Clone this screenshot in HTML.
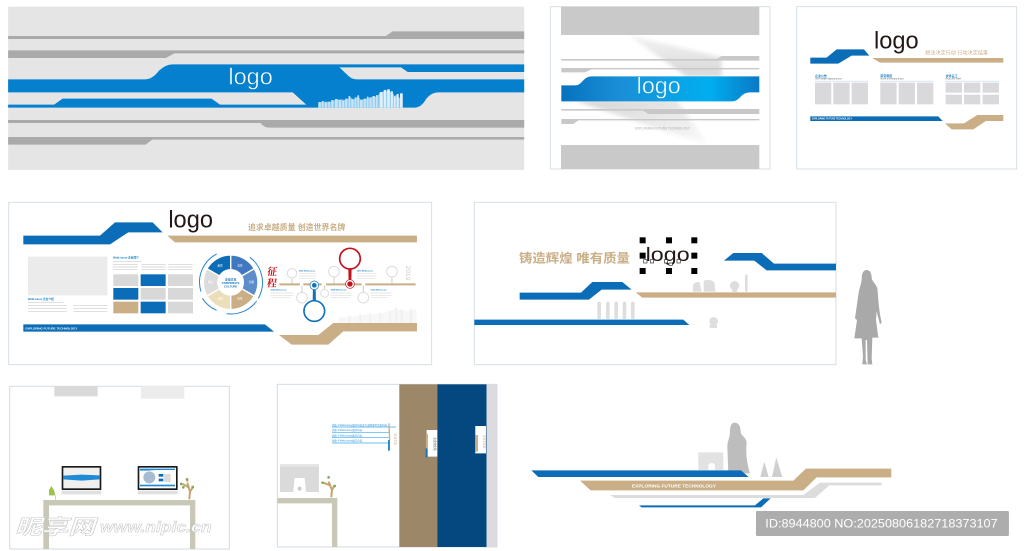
<!DOCTYPE html>
<html><head><meta charset="utf-8"><style>
html,body{margin:0;padding:0;background:#fff;width:1024px;height:551px;overflow:hidden}
svg{display:block}
text{font-family:"Liberation Sans","Noto Sans CJK SC",sans-serif}
</style></head><body>
<svg width="1024" height="551" viewBox="0 0 1024 551" xmlns="http://www.w3.org/2000/svg">
<defs>
<linearGradient id="bl" x1="0" x2="1" y1="0" y2="0"><stop offset="0" stop-color="#0672bd"/><stop offset=".3" stop-color="#1a8fd8"/><stop offset=".75" stop-color="#00aeef"/><stop offset="1" stop-color="#0a78c4"/></linearGradient>
<linearGradient id="sa" x1="0" x2="0" y1="0" y2="1"><stop offset="0" stop-color="#f4f4f4"/><stop offset="1" stop-color="#d6d6d6"/></linearGradient>
<linearGradient id="sb" x1="0" x2="1" y1="0" y2="1"><stop offset="0" stop-color="#d4d4d4"/><stop offset="1" stop-color="#fbfbfb"/></linearGradient>
<filter id="bb" x="-30%" y="-30%" width="160%" height="160%"><feGaussianBlur stdDeviation="6"/></filter>
<clipPath id="cp2"><rect x="64" y="105" width="594" height="330"/></clipPath>
</defs>

<!-- PANEL 1 -->
<g transform="scale(.3384,.3333)">
<rect x="24" y="20" width="1525" height="490" fill="#e5e5e5"/>
<path d="M24 108H1140L1160 94H1549V117H24Z" fill="#aaa"/>
<path d="M24 151H1549V160H515L490 174H24Z" fill="#aaa"/>
<path d="M24 360H1549V383H795Q780 383 770 369H24Z" fill="#aaa"/>
<path d="M24 411H1549V419H450L430 434H24Z" fill="#aaa"/>
<path d="M24 238H430Q450 238 470 212Q490 193 510 193H1549V216H1205L1185 202H1003L1030 228Q1040 238 1055 238H1549V277H1295Q1275 277 1260 296Q1245 323 1225 323H24V314H160L185 296H625L650 314H905L865 277H24Z" fill="#0580cf"/>
<path d="M940 323V308L960 305L975 306L990 300L1010 298L1020 300L1035 292L1045 298L1060 290L1065 299L1085 296L1095 291L1115 290L1122 279L1140 272L1160 276L1165 288L1175 284L1180 294L1190 284V323Z" fill="#8cc8ee"/>
<g fill="#c6e4f7">
<rect x="942" y="306" width="6" height="17"/><rect x="951" y="303" width="5" height="20"/><rect x="960" y="308" width="6" height="15"/><rect x="970" y="305" width="5" height="18"/><rect x="979" y="300" width="6" height="23"/><rect x="990" y="297" width="8" height="26"/><rect x="1001" y="300" width="7" height="23"/><rect x="1011" y="303" width="6" height="20"/><rect x="1020" y="296" width="6" height="27"/><rect x="1030" y="288" width="5" height="35"/><rect x="1038" y="298" width="7" height="25"/><rect x="1048" y="292" width="5" height="31"/><rect x="1056" y="286" width="5" height="37"/><rect x="1064" y="300" width="8" height="23"/><rect x="1075" y="296" width="6" height="27"/><rect x="1084" y="290" width="5" height="33"/><rect x="1092" y="295" width="6" height="28"/><rect x="1101" y="288" width="7" height="35"/><rect x="1111" y="285" width="5" height="38"/>
</g>
<g fill="#e0f0fa"><rect x="1122" y="276" width="9" height="47"/><rect x="1134" y="270" width="7" height="53"/><rect x="1144" y="268" width="8" height="55"/><rect x="1155" y="274" width="6" height="49"/><rect x="1164" y="290" width="5" height="33"/><rect x="1172" y="282" width="6" height="41"/><rect x="1182" y="280" width="8" height="43"/></g>
<text x="675" y="254" font-size="70" fill="#fff" stroke="#0580cf" stroke-width="1.500" textLength="131" lengthAdjust="spacingAndGlyphs">logo</text>
</g>

<!-- PANEL 2 -->
<g transform="translate(540,0) scale(.3333)">
<rect x="31" y="20" width="659" height="487" fill="#fff" stroke="#d7e0e6" stroke-width="3"/>
<g clip-path="url(#cp2)"><g filter="url(#bb)"><path d="M265 105L545 172V230H440Z" fill="url(#sa)"/><path d="M100 300H410L505 435L380 395Z" fill="url(#sb)"/></g></g>
<rect x="63" y="20" width="595" height="85" fill="#c9c9c9"/>
<rect x="63" y="435" width="595" height="72" fill="#c9c9c9"/>
<path d="M64 177H530L545 168H658V182H64Z" fill="#c8c8c8"/>
<path d="M64 204H658V208H155L135 217H64Z" fill="#c8c8c8"/>
<path d="M64 327H658V342H325L310 332H64Z" fill="#c8c8c8"/>
<path d="M64 357H658V361H115L100 372H64Z" fill="#c8c8c8"/>
<path d="M64 256H105Q118 256 128 243Q140 229 155 229H658V277H630Q612 277 600 292Q590 304 575 304H64Z" fill="url(#bl)"/>
<text x="290" y="280" font-size="70" fill="#fff" stroke="#19a0e4" stroke-width="1.500" textLength="132" lengthAdjust="spacingAndGlyphs">logo</text>
<text x="285" y="389" font-size="11" fill="#aaa" textLength="165" lengthAdjust="spacingAndGlyphs">EXPLORING FUTURE TECHNOLOGY</text>
</g>

<!-- PANEL 3 -->
<g transform="translate(540,0) scale(.3333)">
<rect x="770" y="20" width="660" height="487" fill="#fff" stroke="#d7e0e6" stroke-width="3"/>
<path d="M811 173H860L890 148H972L988 167H935L895 191H811Z" fill="#0b6cb7"/>
<path d="M997 174H1390V188H1020Z" fill="#c9ae86"/>
<text x="1002" y="146" font-size="72" fill="#231815" textLength="134" lengthAdjust="spacingAndGlyphs">logo</text>
<text x="1156" y="163" font-size="15" fill="#c9ae86" textLength="188" lengthAdjust="spacingAndGlyphs">想法决定行动 行动决定结果</text>
<text x="825" y="231" font-size="9" fill="#0b7cc7" font-weight="bold">企业公告</text>
<text x="1021" y="231" font-size="9" fill="#0b7cc7" font-weight="bold">荣誉制度</text>
<text x="1217" y="231" font-size="9" fill="#0b7cc7" font-weight="bold">优秀员工</text>
<text x="825" y="238" font-size="5" fill="#555">OUR COMPANY BRAND BULLETIN</text>
<text x="1021" y="238" font-size="5" fill="#555">HONOR SYSTEM AND RULES</text>
<text x="1217" y="238" font-size="5" fill="#555">EXCELLENT STAFF</text>
<path d="M825 243.500H984M1021 243.500H1180M1217 243.500H1377" stroke="#bcd8f0" stroke-width="2"/>
<g fill="#d9d9dc">
<rect x="825" y="248" width="49" height="65"/><rect x="880" y="248" width="49" height="65"/><rect x="935" y="248" width="49" height="65"/>
<rect x="1021" y="248" width="49" height="65"/><rect x="1076" y="248" width="49" height="65"/><rect x="1131" y="248" width="49" height="65"/>
<rect x="1217" y="248" width="49" height="30"/><rect x="1272" y="248" width="49" height="30"/><rect x="1328" y="248" width="49" height="30"/>
<rect x="1217" y="284" width="49" height="29"/><rect x="1272" y="284" width="49" height="29"/><rect x="1328" y="284" width="49" height="29"/>
</g>
<path d="M811 349H1195L1208 363H811Z" fill="#0b6cb7"/>
<text x="816" y="359" font-size="7.500" fill="#fff" font-weight="bold" textLength="120" lengthAdjust="spacingAndGlyphs">EXPLORING FUTURE TECHNOLOGY</text>
<path d="M1215 370H1272L1312 345H1390V363H1338L1300 388H1235Z" fill="#c9ae86"/>
</g>

<!-- PANEL 4 -->
<g transform="translate(0,195) scale(.3333)">
<rect x="26" y="22" width="1269" height="487" fill="#fff" stroke="#d7e0e6" stroke-width="3"/>
<path d="M70 122H300L345 82H458L488 112H385L330 148H70Z" fill="#0b6cb7"/>
<path d="M502 122H1251V142H525Z" fill="#c9ae86"/>
<text x="505" y="98" font-size="72" fill="#231815" textLength="134" lengthAdjust="spacingAndGlyphs">logo</text>
<text x="744" y="105" font-size="24" fill="#c9ae86" font-weight="bold" textLength="292" lengthAdjust="spacingAndGlyphs">追求卓越质量 创造世界名牌</text>
<rect x="84" y="185" width="238" height="116" fill="#ebebeb"/>
<text x="84" y="315" font-size="8" fill="#0b7cc7" font-weight="bold">WebLuxury 企业介绍</text>
<path d="M84 323H190M84 332H200M220 332H322M84 341H200M220 341H322M84 350H200M220 350H322" stroke="#ccc" stroke-width="2"/>
<text x="339" y="191" font-size="8" fill="#0b7cc7" font-weight="bold">WebLuxury 企业简介</text>
<path d="M339 199H425M339 208H412M424 208H497M505 208H578M339 216H412M424 216H497M505 216H578M339 224H412M424 224H497M505 224H578" stroke="#ccc" stroke-width="2"/>
<g>
<rect x="340" y="238" width="75" height="35" fill="#d8d8d8"/><rect x="422" y="238" width="75" height="35" fill="#0b6cb7"/><rect x="504" y="238" width="75" height="35" fill="#d8d8d8"/>
<rect x="340" y="279" width="75" height="35" fill="#0b6cb7"/><rect x="422" y="279" width="75" height="35" fill="#d8d8d8"/><rect x="504" y="279" width="75" height="35" fill="#d8d8d8"/>
<rect x="340" y="320" width="75" height="35" fill="#c9ae86"/><rect x="422" y="320" width="75" height="35" fill="#0b6cb7"/><rect x="504" y="320" width="75" height="35" fill="#d8d8d8"/>
</g>
<g stroke="#fff" stroke-width="4">
<path d="M692 180A82 82 0 0 1 763 221L725 243A38 38 0 0 0 692 224Z" fill="#3f78bf"/>
<path d="M763 221A82 82 0 0 1 763 303L725 281A38 38 0 0 0 725 243Z" fill="#5d8ccb"/>
<path d="M763 303A82 82 0 0 1 692 344V300A38 38 0 0 0 725 281Z" fill="#c9ae86"/>
<path d="M692 344A82 82 0 0 1 621 303L659 281A38 38 0 0 0 692 300Z" fill="#eadfb9"/>
<path d="M621 303A82 82 0 0 1 621 221L659 243A38 38 0 0 0 659 281Z" fill="#dcdcdc"/>
<path d="M621 221A82 82 0 0 1 692 180V224A38 38 0 0 0 659 243Z" fill="#0b6cb7"/>
</g>
<g fill="none" stroke="#2b86cc" stroke-width="3">
<path d="M750 187A95 95 0 0 1 775 310"/><path d="M770 318A95 95 0 0 1 680 356"/><path d="M650 346A95 95 0 0 1 607 310"/><path d="M603 290A95 95 0 0 1 650 177"/>
</g>
<g font-size="8" fill="#fff" text-anchor="middle"><text x="660" y="215">品质</text><text x="720" y="215">责任</text><text x="755" y="264">创新</text><text x="720" y="313">协作</text><text x="662" y="313">诚信</text><text x="632" y="264">敬业</text></g>
<g font-size="8.500" fill="#0b6cb7" text-anchor="middle" font-weight="bold"><text x="692" y="256">企业文化</text><text x="692" y="267">CORPORATE</text><text x="692" y="278">CULTURE</text></g>
<g transform="translate(802,0) skewX(-8)" fill="#d2121b" font-weight="bold">
<text x="32" y="240" font-size="30" style="font-family:'Noto Serif CJK SC',serif">征</text>
<text x="36" y="274" font-size="30" style="font-family:'Noto Serif CJK SC',serif">程</text>
</g>
<path d="M838 265H900V271H838ZM910 265H965V271H910ZM978 265H1085V271H978ZM1096 265H1247V271H1096Z" fill="#c9ae86"/>
<path d="M876 250V265M1002 247V265M1176 247V265M906 271V292M974 271V283M1090 271V292" stroke="#ccc" stroke-width="3"/>
<g fill="#fff" stroke="#ddd" stroke-width="3">
<circle cx="876" cy="235" r="14"/><circle cx="1002" cy="230" r="16"/><circle cx="1176" cy="230" r="16"/><circle cx="906" cy="308" r="16"/><circle cx="974" cy="295" r="12"/><circle cx="1090" cy="308" r="16"/>
</g>
<path d="M1045 218H1055L1054 262H1046Z" fill="#c4121c"/>
<circle cx="1050" cy="191" r="31" fill="#fff" stroke="#c4121c" stroke-width="5"/>
<circle cx="1050" cy="267" r="13" fill="#fff" stroke="#c4121c" stroke-width="2"/><circle cx="1050" cy="267" r="8" fill="#c4121c"/>
<path d="M939 275H947L948 320H938Z" fill="#1272bd"/>
<circle cx="943" cy="348" r="31" fill="#fff" stroke="#1272bd" stroke-width="5"/>
<circle cx="943" cy="271" r="13" fill="#fff" stroke="#1272bd" stroke-width="2"/><circle cx="943" cy="271" r="7" fill="#1272bd"/>
<g font-size="6" fill="#0b7cc7" font-weight="bold"><text x="897" y="229">2005 WebLuxury</text><text x="1071" y="229">2010 WebLuxury</text><text x="812" y="287">2002 WebLuxury</text><text x="992" y="287">2008 WebLuxury</text><text x="1112" y="287">2012 WebLuxury</text></g>
<path d="M897 236H950M897 243H950M897 250H945M1071 236H1130M1071 243H1130M1071 250H1125M812 294H880M812 301H880M812 308H870M992 294H1055M992 301H1055M992 308H1050M1112 294H1175M1112 301H1175M1112 308H1165" stroke="#ddd" stroke-width="2"/>
<text x="1218" y="212" font-size="20" fill="#ccc" transform="rotate(90 1218 212)">2019</text>
<path d="M1015 384V368L1060 364L1110 358L1150 354L1185 342L1215 348L1250 344V384Z" fill="#f7f7f7"/>
<g fill="#f0f0f0"><rect x="1046" y="362" width="5" height="22"/><rect x="1078" y="358" width="5" height="26"/><rect x="1108" y="355" width="5" height="29"/><rect x="1138" y="353" width="5" height="31"/><rect x="1168" y="348" width="5" height="36"/><rect x="1186" y="338" width="6" height="46"/><rect x="1202" y="344" width="6" height="40"/><rect x="1230" y="342" width="6" height="42"/></g>
<path d="M70 388H795L822 410H70Z" fill="#0b6cb7"/>
<text x="76" y="403" font-size="8.500" fill="#fff" font-weight="bold" textLength="156" lengthAdjust="spacingAndGlyphs">EXPLORING FUTURE TECHNOLOGY</text>
<path d="M837 420H955L1000 384H1251V409H1030L985 449H875Z" fill="#c9ae86"/>
</g>

<!-- PANEL 5 (product wall) -->
<g transform="translate(465,195) scale(.3333)">
<rect x="28" y="22" width="1085" height="487" fill="#fff" stroke="#d7e0e6" stroke-width="3"/>
<path d="M777 197L805 174H890L927 206H1113V226H905L868 197Z" fill="#0b6cb7"/>
<path d="M164 293H348L382 261H472L500 284H410L372 314H164Z" fill="#0b6cb7"/>
<path d="M512 292H1113V308H532Z" fill="#c9ae86"/>
<path d="M28 374H655L673 390H28Z" fill="#0b6cb7"/>
<text x="162" y="202" font-size="37" fill="#c9ae86" font-weight="bold" textLength="333" lengthAdjust="spacingAndGlyphs">铸造辉煌 唯有质量</text>
<text x="542" y="198" font-size="58" fill="#231815" textLength="132" lengthAdjust="spacingAndGlyphs">logo</text>
<g fill="#000">
<rect x="524" y="127" width="18" height="18"/><rect x="603" y="127" width="18" height="18"/><rect x="679" y="127" width="18" height="18"/>
<rect x="524" y="173" width="18" height="18"/><rect x="679" y="173" width="18" height="18"/>
<rect x="524" y="219" width="18" height="18"/><rect x="603" y="219" width="18" height="18"/><rect x="679" y="219" width="18" height="18"/>
</g>
<g fill="#fff" stroke="#333" stroke-width="2"><rect x="536" y="194" width="10" height="10"/><rect x="556" y="194" width="10" height="10"/><rect x="598" y="194" width="10" height="10"/><rect x="612" y="204" width="10" height="7"/><rect x="636" y="194" width="10" height="10"/></g>
<g fill="#dedede">
<path d="M684 290V270Q690 258 704 262L710 290Z"/><path d="M716 290V258Q735 250 748 262L752 290Z"/>
<circle cx="809" cy="272" r="14"/><rect x="802" y="284" width="14" height="7"/>
<rect x="840" y="238" width="8" height="52" rx="4"/>
<rect x="397" y="320" width="11" height="52" rx="5"/><rect x="423" y="320" width="11" height="52" rx="5"/><rect x="448" y="320" width="11" height="52" rx="5"/><rect x="473" y="320" width="11" height="52" rx="5"/><rect x="498" y="320" width="11" height="52" rx="5"/>
<circle cx="746" cy="379" r="13"/><rect x="734" y="390" width="22" height="9"/>
</g>
</g>

<!-- Woman -->
<path transform="translate(845,265) scale(.3333)" d="M65 15C75 15 80 25 80 38C80 48 92 55 97 70C100 95 100 130 110 172L105 178L95 140L93 165L100 218H82L80 280L82 298H68L66 225H62L62 285L66 298H52L54 275L50 220H28L36 165L30 160L40 90C42 70 50 55 50 42C50 25 55 15 65 15Z" fill="#a9a9a9"/>

<!-- PANEL 6 desk -->
<g transform="translate(0,380) scale(.3333)">
<rect x="29" y="19" width="659" height="488" fill="#fff" stroke="#d0dce4" stroke-width="3"/>
<rect x="163" y="18" width="130" height="31" fill="#d9d9d9"/>
<rect x="423" y="18" width="130" height="38" fill="#ececec"/>
<path d="M130 360H586V507H570V376H147V507H130Z" fill="#c9c8b6"/>
<g>
<rect x="185" y="332" width="119" height="11" fill="#e0e0e0"/><rect x="185" y="258" width="119" height="72" fill="#1a1a1a" rx="2"/><rect x="190" y="263" width="109" height="62" fill="#f0f0ee"/>
<path d="M190 287L245 284L299 286V298L245 302L190 298Z" fill="#1f8ad6"/>
<rect x="413" y="332" width="120" height="11" fill="#e0e0e0"/><rect x="413" y="258" width="120" height="72" fill="#1a1a1a" rx="2"/><rect x="418" y="263" width="110" height="62" fill="#fff"/>
<path d="M420 266H470L525 266V270H470L440 272H420Z" fill="#1f8ad6"/><rect x="420" y="314" width="105" height="5" fill="#1f8ad6"/>
<circle cx="448" cy="292" r="18" fill="#a9bbd0"/><rect x="476" y="282" width="14" height="8" fill="#0b6cb7"/><rect x="476" y="296" width="14" height="8" fill="#0b6cb7"/><rect x="492" y="282" width="20" height="24" fill="#dcdcdc"/>
</g>
<path d="M147 346V330L154 318L162 330L166 346Z" fill="#9fc24a"/><path d="M166 346V360" stroke="#bbb" stroke-width="2"/>
<path d="M568 358L570 335L562 308M570 335L580 320M566 322L548 312M562 305V296" stroke="#c9a36f" stroke-width="6" fill="none"/>
<g fill="#7fa855"><circle cx="544" cy="312" r="4"/><circle cx="561" cy="298" r="4"/><circle cx="578" cy="321" r="4"/><circle cx="550" cy="322" r="4"/></g>
<text x="45" y="462" font-size="62" font-weight="bold" font-style="italic" fill="#fff" stroke="#c4c4c4" stroke-width="1.500" textLength="240" lengthAdjust="spacingAndGlyphs">昵享网</text>
<text x="300" y="456" font-size="45" font-weight="bold" font-style="italic" fill="#fff" stroke="#c4c4c4" stroke-width="1.500" textLength="335" lengthAdjust="spacingAndGlyphs">www.nipic.cn</text>
</g>

<!-- PANEL 7 corridor -->
<g transform="translate(0,380) scale(.3333)">
<rect x="832" y="13" width="659" height="488" fill="#fff" stroke="#d0dce4" stroke-width="3"/>
<rect x="1198" y="13" width="114" height="488" fill="#9c8768"/>
<rect x="1312" y="13" width="148" height="488" fill="#04487f"/>
<rect x="1460" y="13" width="30" height="488" fill="#dcdce0"/>
<path d="M1280 150H1312V230H1280Z" fill="#fff"/><path d="M1277 205H1283V232H1277Z" fill="#1272bd"/><path d="M1278 170L1284 160V205H1278Z" fill="#c9ae86"/>
<path d="M1426 138H1458V220H1426Z" fill="#fff"/><path d="M1426 165H1434V215H1426Z" fill="#c9ae86"/>
<g font-size="8" fill="#555" transform="translate(1302 172) rotate(90)"><text>企业文化墙</text></g>
<g font-size="8" fill="#c9ae86" transform="translate(1450 165) rotate(90)"><text>企业文化墙</text></g>
<g font-size="7.500" fill="#1a8fe0">
<text x="996" y="138">优质 1.WebLuxury展示内容文字说明参考示意内容</text>
<text x="996" y="153">优质 2.WebLuxury展示内容</text>
<text x="996" y="169">优质 3.WebLuxury展示内容</text>
<text x="996" y="185">优质 4.WebLuxury展示内容</text>
</g>
<path d="M996 141H1188M996 157H1170M996 173H1170M996 189H1170" stroke="#3ba7ea" stroke-width="2"/>
<path d="M1167 130L1169 180" stroke="#c9ae86" stroke-width="4"/><path d="M1167 180V212" stroke="#1272bd" stroke-width="5"/>
<text x="1184" y="160" font-size="9" fill="#c9ae86" transform="rotate(90 1184 160)">企业文化</text>
<path d="M840 252H957V336H840Z" fill="#dadada"/><rect x="840" y="252" width="117" height="8" fill="#e6e6e6"/>
<path d="M884 294H914L918 336H880Z" fill="#fff"/><circle cx="899" cy="326" r="6" fill="#ccc"/>
<path d="M832 354H1012V501H996V370H832Z" fill="#c9c8b6"/>
<path d="M994 352L996 330L986 305M996 330L1004 316M990 316L970 308" stroke="#c9a36f" stroke-width="6" fill="none"/>
<g fill="#7fa855"><circle cx="968" cy="308" r="4"/><circle cx="986" cy="292" r="4"/><circle cx="1004" cy="318" r="4"/></g>
</g>

<!-- PANEL 8 bottom right -->
<g transform="translate(510,410) scale(.3333)">
<path d="M565 127H640V180H565Z" fill="#e2e2e2"/><path d="M595 180V165Q605 152 615 165V180Z" fill="#fff"/>
<path d="M674 38C686 38 692 50 692 64C692 76 706 80 710 95C708 125 708 150 720 190H655L652 110C652 92 660 85 660 64C660 50 664 38 674 38Z" fill="#bdbdbd"/>
<path d="M751 201L763 155L776 201Z" fill="#cfcfcf"/><path d="M786 201L799 142L817 201Z" fill="#cfcfcf"/>
<path d="M64 181H693L716 201H85Z" fill="#0b6cb7"/>
<path d="M210 212H850L888 176H1144V202H920L880 241H242Z" fill="#c9ae86"/>
<text x="366" y="232" font-size="15" fill="#fff" font-weight="bold" textLength="252" lengthAdjust="spacingAndGlyphs">EXPLORING FUTURE TECHNOLOGY</text>
<path d="M300 255H880L930 218H1115V226H958L915 264H315Z" fill="#dcdcdc"/>
<path d="M387 286H735L760 265H782L753 292H395Z" fill="#0b6cb7"/>
<rect x="738" y="303" width="759" height="75" rx="4" fill="#adadad"/>
<text x="766" y="352" font-size="37" fill="#fff" textLength="697" lengthAdjust="spacingAndGlyphs">ID:8944800 NO:20250806182718373107</text>
</g>
</svg>
</body></html>
